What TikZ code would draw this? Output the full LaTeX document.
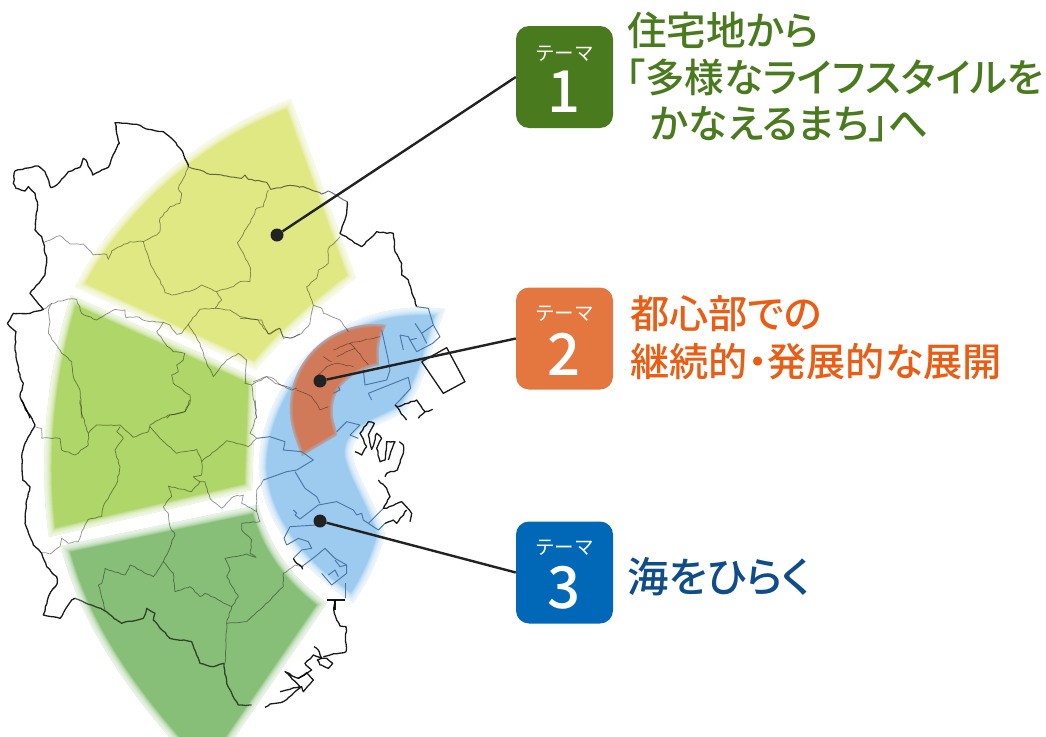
\documentclass[tikz,border=0pt]{standalone}
\usepackage{fontspec}
\usetikzlibrary{decorations.pathmorphing}
\newfontfamily\jpf{Noto Sans CJK JP}
\newfontfamily\jpb[RawFeature=+palt]{Noto Sans CJK JP Medium}
\newfontfamily\numf{Noto Sans CJK JP Medium}
\setmainfont{Noto Sans}
\definecolor{cyel}{HTML}{E0E884}
\definecolor{clgr}{HTML}{AFD669}
\definecolor{cdgr}{HTML}{87BF78}
\definecolor{cblu}{HTML}{9CCBEF}
\definecolor{corg}{HTML}{D07A5A}
\definecolor{bgr}{HTML}{4A7A1E}
\definecolor{bor}{HTML}{E47740}
\definecolor{bbl}{HTML}{0068B7}
\definecolor{tor}{HTML}{EA5D14}
\definecolor{tbl}{HTML}{0F4C8A}
\definecolor{cdot}{HTML}{222222}
\definecolor{cbay}{HTML}{4A76A8}
\newcommand{\softregion}[4]{%
  \fill[#1] #4;
  \begin{scope}
    \clip #4;
    \foreach \w in #3{\draw[#2,opacity=.17,line width=\w pt,line join=round] #4;}
  \end{scope}}
\pgfmathsetseed{7}
\tikzset{
  wig/.style={decorate,decoration={random steps,segment length=3.5pt,amplitude=.6pt}},
  coast/.style={draw=black,line width=1.3pt,line join=round,opacity=.9,wig},
  ward/.style={draw=black,line width=.75pt,line join=round,opacity=.42,wig},
  bay/.style={draw=cbay,line width=.95pt,line join=round},
  z1/.style={shift={(0,90)},x=.33333pt,y=-.33333pt},
  z2/.style={shift={(0,400)},x=.33333pt,y=-.33333pt},
  z3/.style={shift={(240,180)},x=.33333pt,y=-.33333pt},
  z4/.style={shift={(240,410)},x=.33333pt,y=-.33333pt},
  z7/.style={shift={(240,600)},x=.33333pt,y=-.33333pt},
  themebox/.style={rounded corners=13pt,minimum width=97pt,minimum height=102pt,inner sep=0pt},
  dotnode/.style={circle,fill=cdot,inner sep=0pt,minimum size=13pt},
  link/.style={draw=cdot,line width=2.4pt},
  small/.style={text=white,inner sep=0pt,font=\jpf\fontsize{19.5}{19.5}\selectfont},
  numeral/.style={text=white,inner sep=0pt,font=\numf\fontsize{58}{58}\selectfont},
  headg/.style={text=bgr,inner sep=0pt,anchor=base west,font=\jpb\fontsize{39.6}{39.6}\selectfont},
  heado/.style={text=tor,inner sep=0pt,anchor=base west,font=\jpb\fontsize{39.2}{39.2}\selectfont},
  headb/.style={text=tbl,inner sep=0pt,anchor=base west,font=\jpb\fontsize{41.5}{41.5}\selectfont},
}
\begin{document}
\begin{tikzpicture}[x=1pt,y=-1pt]
\useasboundingbox (0,0) rectangle (1046,736);
% regions
\def\bigblur{15,13.5,12,10.5,9,7.5,6,4.5,3,1.5}
\def\tinyblur{6,4.5,3,1.5}
\softregion{cyel}{white}{\bigblur}{(291,99) -- (356,278) .. controls (320,305) and (285,335) .. (256,370) -- (75,287) .. controls (105,225) and (180,140) .. (291,99) -- cycle}
\softregion{clgr}{white}{\bigblur}{(71,295) -- (256,378) -- (252,490) -- (49,537) .. controls (39,470) and (44,380) .. (71,295) -- cycle}
\softregion{cdgr}{white}{\bigblur}{(61,546) -- (258,505) .. controls (270,550) and (295,580) .. (327,603) -- (219,760) -- (190,760) .. controls (125,690) and (79,620) .. (61,546) -- cycle}
\softregion{cblu}{white}{\bigblur}{(445,309) .. controls (432,340) and (430,375) .. (404,412) .. controls (380,425) and (350,432) .. (352,455) .. controls (358,480) and (377,505) .. (385,535) .. controls (376,565) and (366,585) .. (353,603) .. controls (310,575) and (264,530) .. (259,470) .. controls (257,400) and (320,294) .. (445,309) -- cycle}
\softregion{corg}{cblu}{\tinyblur}{(386,325) .. controls (376,345) and (379,355) .. (379,365) .. controls (355,370) and (335,385) .. (333,405) .. controls (331,420) and (336,425) .. (337,435) -- (302,456) .. controls (289,425) and (287,410) .. (293,385) .. controls (304,345) and (345,319) .. (386,325) -- cycle}
% outer boundary and wards
\begin{scope}[z1]
\draw[ward] (130,458)--(180,437)--(210,462)--(250,462)--(280,495)--(320,493)--(325,508)--(335,483)--(390,455)--(430,455)--(470,435)--(480,425)--(480,385)--(510,350)--(540,340)--(545,310)--(535,295)--(550,265)--(565,230);
\draw[ward] (430,455)--(455,530)--(480,570)--(495,608)--(515,615)--(580,600)--(605,585)--(650,605)--(700,590)--(720,575)--(750,575)--(752,535)--(730,490)--(712,458)--(750,400)--(770,355)--(790,350)--(805,300);
\draw[ward] (650,605)--(665,630)--(645,655)--(600,658)--(565,703)--(545,730)--(530,733)--(510,705)--(490,697)--(435,692)--(410,680)--(378,683)--(375,660)--(345,658)--(290,690)--(245,670)--(230,628)--(205,627)--(155,640)--(145,665);
\draw[ward] (645,655)--(690,660)--(720,680)--(775,690)--(790,715)--(810,733)--(840,715)--(850,745)--(885,740)--(900,732);
\draw[ward] (145,665)--(150,695)--(145,730)--(185,790)--(215,815)--(220,860)--(240,900)--(245,985);
\draw[ward] (490,697)--(470,725)--(495,760)--(520,785)--(555,790)--(550,810)--(530,825)--(535,845)--(515,855)--(520,880)--(570,915)--(570,940)--(555,965)--(510,975)--(500,985);
\draw[ward] (565,703)--(600,760)--(620,820)--(640,860)--(680,810)--(715,790)--(740,810)--(735,880)--(755,885)--(800,860)--(825,880)--(875,895);
\draw[ward] (755,885)--(765,950)--(770,985);
\draw[coast] (130,458)--(125,440)--(105,420)--(108,380)--(113,345)--(105,310)--(85,290)--(75,303)--(48,295)--(40,280)--(45,243)--(75,235)--(115,228)--(135,245)--(152,293)--(170,285)--(205,245)--(240,232)--(250,205)--(258,210)--(278,255)--(325,232)--(335,205)--(345,185)--(358,160)--(350,130)--(345,98)--(370,100)--(410,103)--(445,118)--(490,125)--(520,150)--(548,185)--(565,230);
\draw[ward,line width=1pt,opacity=.55] (565,230)--(600,240)--(620,250)--(680,258)--(725,265)--(735,255)--(745,268)--(800,277)--(812,298)--(850,290)--(880,287)--(900,292);
\draw[coast] (130,458)--(140,510)--(135,555)--(90,610)--(130,658)--(90,670)--(40,670)--(22,700)--(48,725)--(45,780)--(60,860)--(70,880)--(60,920)--(90,985);
\draw[ward] (130,658)--(155,640);
\end{scope}
\begin{scope}[z3]
\draw[ward,line width=1pt,opacity=.55] (180,21)--(190,20)--(245,42)--(265,33)--(322,65);
\draw[coast] (322,65)--(320,100)--(300,160)--(365,200)--(385,180)--(410,155)--(460,160)--(465,215)--(485,250)--(485,285)--(505,300)--(530,380);
\draw[ward] (300,170)--(265,205)--(265,250)--(235,270)--(230,295)--(200,320)--(220,375)--(245,385)--(250,400)--(300,420)--(325,455);
\draw[ward] (220,375)--(210,430)--(185,460)--(150,475)--(130,470)--(118,445)--(85,462)--(65,420)--(0,415);
\draw[ward] (40,605)--(80,590)--(100,595)--(115,610)--(155,630)--(170,625);
\draw[bay] (530,380)--(565,385)--(580,435)--(600,470)--(578,490)--(530,515)--(510,480)--(530,475);
\draw[bay] (525,430)--(545,460)--(580,435);
\draw[bay] (545,460)--(560,490);
\draw[bay] (480,465)--(490,510);
\draw[bay] (480,465)--(505,470)--(510,480);
\draw[bay] (425,450)--(445,540)--(450,570)--(440,600)--(375,615)--(370,570);
\draw[bay] (385,640)--(505,592)--(512,625)--(480,660)--(465,675)--(475,680);
\draw[bay] (385,640)--(395,660);
\draw[coast,decorate=false] (545,545)--(620,503)--(675,605)--(610,640)--(545,545);
\draw[coast] (475,680)--(530,660)--(555,695)--(578,688);
\draw[coast] (555,695)--(535,715);
\draw[coast] (465,675)--(500,720);
\draw[ward,line width=.6pt] (280,510)--(330,490)--(420,470);
\draw[ward,line width=.6pt] (290,530)--(345,505)--(385,555);
\draw[ward,line width=.6pt] (250,530)--(275,545);
\draw[ward,line width=.6pt] (230,590)--(260,560)--(290,550)--(340,560);
\draw[ward,line width=.6pt] (330,490)--(345,505);
\draw[ward,line width=.6pt] (170,630)--(215,650)--(240,690)--(265,680);
\draw[bay] (280,640)--(300,630)--(295,620);
\end{scope}
\begin{scope}[z2]
\draw[coast] (65,0)--(105,75)--(75,130)--(65,170)--(68,240)--(90,260)--(80,300)--(75,370)--(100,435)--(125,460)--(140,500)--(170,530)--(172,550)--(150,580)--(130,645)--(180,655)--(215,600)--(225,595);
\draw[coast,opacity=.65] (225,595)--(310,630)--(365,670)--(430,655)--(440,625)--(465,640)--(460,660)--(510,715)--(575,725)--(600,790)--(640,800)--(672,790)--(680,850)--(715,915)--(755,915);
\draw[ward] (105,80)--(125,85)--(125,115)--(180,115)--(185,150)--(225,165)--(265,135)--(265,100)--(245,40)--(240,0);
\draw[ward] (265,100)--(290,75)--(360,75)--(400,112)--(445,95)--(450,75)--(505,45)--(555,35)--(570,0);
\draw[ward] (450,80)--(480,115)--(530,160)--(590,148)--(605,185)--(680,122)--(745,140)--(770,115)--(750,100)--(770,50)--(765,0);
\draw[ward] (360,80)--(350,95)--(370,115)--(345,150)--(360,200)--(350,250)--(310,320)--(305,350)--(265,358)--(245,395)--(235,425)--(205,430)--(185,415)--(180,440)--(150,462)--(125,458);
\draw[ward] (605,185)--(605,225)--(580,230)--(600,245)--(615,245)--(630,295)--(665,325)--(700,290)--(730,285)--(725,310)--(770,335)--(780,365)--(725,370)--(725,390)--(755,420)--(750,460)--(768,472)--(740,462)--(675,475)--(690,510)--(680,530)--(715,590)--(695,620);
\draw[ward] (600,245)--(575,275)--(505,258)--(515,290)--(490,320)--(505,340)--(510,380)--(525,405)--(490,485)--(520,520)--(525,575)--(570,560)--(600,590)--(615,580)--(695,620)--(680,670)--(675,790);
\draw[ward] (680,670)--(740,665)--(790,620)--(850,560)--(850,520)--(885,495)--(910,500);
\draw[ward] (490,485)--(460,530)--(390,495)--(375,525)--(315,505)--(305,550)--(295,555)--(315,630);
\draw[ward] (770,335)--(770,270)--(790,240);
\draw[bay] (770,115)--(810,110)--(855,125)--(850,150)--(905,155)--(940,180)--(890,210)--(860,215)--(790,240);
\draw[bay] (885,215)--(915,265)--(950,290)--(960,310);
\end{scope}
\begin{scope}[z4]
\draw[bay] (160,300)--(170,310)--(165,315)--(180,327)--(235,285)--(290,275)--(340,300)--(350,315)--(365,310)--(370,330)--(385,340)--(415,360)--(435,340);
\draw[bay] (230,345)--(150,350)--(132,385)--(140,405)--(175,385)--(205,395)--(215,415)--(185,420)--(160,445);
\draw[bay] (245,490)--(275,525)--(320,490)--(320,465)--(285,445)--(255,415)--(225,440)--(185,470);
\draw[bay] (265,495)--(285,480)--(295,500);
\draw[bay] (285,450)--(300,470)--(320,465);
\draw[bay] (315,520)--(315,565);
\draw[bay] (290,65)--(320,35)--(360,45)--(330,75)--(355,85);
\draw[bay] (385,340)--(430,295);
\draw[coast] (345,125)--(365,135)--(380,110)--(360,70)--(385,35)--(403,40)--(385,75)--(395,118)--(410,70)--(425,85)--(410,115)--(420,155)--(435,150)--(440,95)--(465,95)--(445,150);
\draw[coast] (478,95)--(490,105)--(490,130)--(472,180)--(440,190)--(435,200);
\draw[coast] (415,210)--(440,235)--(450,260)--(430,295)--(440,295)--(485,275)--(515,310)--(510,335);
\draw[coast] (435,340)--(460,330)--(470,340)--(500,300);
\draw[coast,decorate=false] (260,570)--(315,570);
\draw[coast,decorate=false] (285,570)--(285,600);
\draw[coast] (160,445)--(170,460)--(185,470)--(188,478);
\end{scope}
\begin{scope}[z7]
\draw[coast] (75,322)--(90,312)--(130,305)--(165,275)--(185,260)--(190,275)--(220,240)--(200,218)--(175,235)--(135,215)--(180,260)--(120,275);
\draw[coast] (175,235)--(215,210)--(195,190)--(220,165)--(245,175)--(235,150)--(222,140);
\draw[coast] (250,170)--(318,155)--(318,80)--(300,78)--(283,40)--(283,0);
\draw[coast] (245,175)--(260,175)--(278,190)--(265,205)--(240,195)--(232,180)--(245,175);
\end{scope}
% boxes
\node[themebox,fill=bgr] (box1) at (564.5,77) {};
\node[themebox,fill=bor] (box2) at (564.5,338.5) {};
\node[themebox,fill=bbl] (box3) at (564.5,572.5) {};
\node[small] (s1) at (564.5,54) {テーマ};
\node[small] (s2) at (564.5,314) {テーマ};
\node[small] (s3) at (564.5,548) {テーマ};
\node[numeral] (n1) at (564.5,92) {1};
\node[numeral] (n2) at (564.5,354) {2};
\node[numeral] (n3) at (564.5,588) {3};
% connectors
\node[dotnode] (d1) at (277,235) {};
\node[dotnode] (d2) at (320,381) {};
\node[dotnode] (d3) at (320,521) {};
\draw[link] (d1) -- (box1.west);
\draw[link] (d2) -- (box2.west);
\draw[link] (d3) -- (box3.west);
% text
\node[headg] (t1a) at (627,45) {住宅地から};
\node[headg] (t1b) at (625,92) {「多様なライフスタイルを};
\node[headg] (t1c) at (650,138) {かなえるまち」へ};
\node[heado] (t2a) at (630,328) {都心部での};
\node[heado] (t2b) at (630,376) {継続的・発展的な展開};
\node[headb] (t3) at (627,592) {海をひらく};
\end{tikzpicture}
\end{document}
